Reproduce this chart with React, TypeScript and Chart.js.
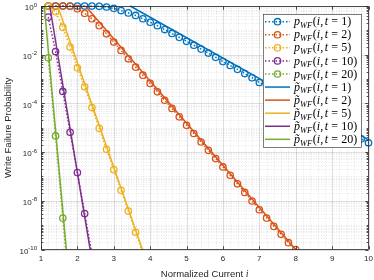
import React, { useEffect, useRef } from 'react';
import { Chart, registerables } from 'chart.js';

Chart.register(...registerables);

// Normalized current grid (x values of the marker series)
const currentGrid = [
  1.2, 1.4, 1.6, 1.8, 2.0, 2.2, 2.4, 2.6, 2.8, 3.0, 3.2, 3.4, 3.6, 3.8, 4.0,
  4.2, 4.4, 4.6, 4.8, 5.0, 5.2, 5.4, 5.6, 5.8, 6.0, 6.2, 6.4, 6.6, 6.8, 7.0,
  7.2, 7.4, 7.6, 7.8, 8.0, 8.2, 8.4, 8.6, 8.8, 9.0, 9.2, 9.4, 9.6, 9.8, 10.0,
];

// p_WF(i, t)
const pwfT1 = [
  1, 1, 1, 1, 1, 0.9995, 0.995, 0.972, 0.91, 0.8, 0.65, 0.52, 0.41, 0.3, 0.215,
  0.155, 0.108, 0.0745, 0.0515, 0.0355, 0.0245, 0.017, 0.0117, 0.0078, 0.0052,
  0.0036, 0.0025, 0.00168, 0.00113, 7.2e-4, 5.1e-4, 3.5e-4, 2.4e-4, 1.62e-4, 1.12e-4,
  7.6e-5, 5.1e-5, 3.5e-5, 2.4e-5, 1.62e-5, 1.12e-5, 7.6e-6, 5.1e-6, 3.5e-6, 2.4e-6,
];
const pwfT2 = [
  1, 1, 0.999, 0.978, 0.78, 0.5, 0.3, 0.155, 0.072, 0.033, 0.015, 0.0068, 0.0031,
  0.00144, 6.6e-4, 3.0e-4, 1.35e-4, 6.2e-5, 2.8e-5, 1.26e-5, 5.8e-6, 2.6e-6, 1.18e-6,
  5.4e-7, 2.45e-7, 1.12e-7, 5.0e-8, 2.2e-8, 9.8e-9, 4.3e-9, 1.95e-9, 8.9e-10, 4.2e-10,
  1.9e-10, 1.0e-10,
];
const pwfT5 = [
  0.998, 0.58, 0.135, 0.0205, 2.9e-3, 4.8e-4, 6.8e-5, 9.5e-6, 1.3e-6, 1.9e-7, 2.7e-8,
  3.8e-9, 5.1e-10, 7e-11,
];
const pwfT10 = [0.35, 0.0135, 3.1e-4, 6.5e-6, 1.45e-7, 3.0e-9, 6.5e-11];
const pwfT20 = [7.5e-3, 4.6e-6, 1.95e-9, 1e-12];

// Approximation p~_WF(i, t): straight lines on the log scale (start, end)
const approxT1Current = [3.45, 10];
const approxT1 = [1, 3.2e-6];
const approxT2Current = [2.22, 8.1];
const approxT2 = [1, 6.7e-11];
const approxT5Current = [1.457, 3.85];
const approxT5 = [1, 5.4e-11];
const approxT10Current = [1.24, 2.4];
const approxT10 = [1, 3.6e-11];
const approxT20Current = [1.09, 1.72];
const approxT20 = [1, 4e-11];

const durations = ['1', '2', '5', '10', '20'];
const colors = ['#0072BD', '#D95319', '#EDB120', '#7E2F8E', '#77AC30'];

const xTicks = [1, 2, 3, 4, 5, 6, 7, 8, 9, 10];
const yTickExps = [0, -2, -4, -6, -8, -10];

const SANS = '"Liberation Sans", Arial, Helvetica, sans-serif';
const SERIF = '"Liberation Serif", "Times New Roman", serif';
const AXIS_COLOR = '#262626';
const DOT_DASH = [1.5, 2];

function drawParts(ctx: CanvasRenderingContext2D, x: number, y: number, parts: any[]) {
  let cx = x;
  for (const p of parts) {
    cx += p.pre || 0;
    const size = p.sub ? 8.5 : 12;
    ctx.font = `${p.it ? 'italic ' : ''}${size}px ${SERIF}`;
    ctx.fillText(p.t, cx, y + (p.sub ? 2.8 : 0));
    cx += ctx.measureText(p.t).width + (p.post || 0);
  }
  return cx;
}

const decorPlugin = {
  id: 'decor',
  beforeDatasetsDraw(chart: any) {
    const { ctx, chartArea: a, scales } = chart;
    const xs = scales.x;
    const ys = scales.y;
    ctx.save();
    // minor grid (dotted)
    ctx.lineWidth = 1;
    ctx.strokeStyle = 'rgba(38,38,38,0.10)';
    ctx.setLineDash([1, 1.5]);
    for (let e = -10; e < 0; e++) {
      for (let m = 1; m < 10; m++) {
        if (m === 1 && e % 2 === 0) continue;
        const py = Math.round(ys.getPixelForValue(m * Math.pow(10, e))) + 0.5;
        ctx.beginPath();
        ctx.moveTo(a.left, py);
        ctx.lineTo(a.right, py);
        ctx.stroke();
      }
    }
    for (let k = 1; k < 45; k++) {
      if (k % 5 === 0) continue;
      const px = Math.round(xs.getPixelForValue(1 + k * 0.2)) + 0.5;
      ctx.beginPath();
      ctx.moveTo(px, a.top);
      ctx.lineTo(px, a.bottom);
      ctx.stroke();
    }
    // major grid
    ctx.setLineDash([]);
    ctx.strokeStyle = 'rgba(38,38,38,0.15)';
    for (const e of yTickExps) {
      const py = Math.round(ys.getPixelForValue(Math.pow(10, e))) + 0.5;
      ctx.beginPath();
      ctx.moveTo(a.left, py);
      ctx.lineTo(a.right, py);
      ctx.stroke();
    }
    for (const t of xTicks) {
      const px = Math.round(xs.getPixelForValue(t)) + 0.5;
      ctx.beginPath();
      ctx.moveTo(px, a.top);
      ctx.lineTo(px, a.bottom);
      ctx.stroke();
    }
    ctx.restore();
  },
  afterDatasetsDraw(chart: any) {
    const { ctx, chartArea: a, scales } = chart;
    const xs = scales.x;
    const ys = scales.y;
    ctx.save();
    ctx.setLineDash([]);
    // box
    ctx.strokeStyle = AXIS_COLOR;
    ctx.lineWidth = 0.8;
    const L = Math.round(a.left) + 0.5;
    const R = Math.round(a.right) - 0.5;
    const T = Math.round(a.top) + 0.5;
    const B = Math.round(a.bottom) - 0.5;
    ctx.strokeRect(L, T, R - L, B - T);
    // ticks
    ctx.beginPath();
    for (const t of xTicks) {
      const px = Math.round(xs.getPixelForValue(t)) + 0.5;
      ctx.moveTo(px, B); ctx.lineTo(px, B - 3.3);
      ctx.moveTo(px, T); ctx.lineTo(px, T + 3.3);
    }
    for (let e = -10; e <= 0; e++) {
      for (let m = 1; m < 10; m++) {
        if (e === 0 && m > 1) continue;
        const major = m === 1 && e % 2 === 0;
        const len = major ? 3.3 : 1.8;
        const py = Math.round(ys.getPixelForValue(m * Math.pow(10, e))) + 0.5;
        ctx.moveTo(L, py); ctx.lineTo(L + len, py);
        ctx.moveTo(R, py); ctx.lineTo(R - len, py);
      }
    }
    ctx.stroke();

    // tick labels
    ctx.fillStyle = AXIS_COLOR;
    ctx.textBaseline = 'middle';
    ctx.textAlign = 'center';
    ctx.font = `8px ${SANS}`;
    for (const t of xTicks) {
      ctx.fillText(String(t), xs.getPixelForValue(t), a.bottom + 9);
    }
    for (const e of yTickExps) {
      const py = ys.getPixelForValue(Math.pow(10, e));
      const expText = String(e);
      ctx.font = `6px ${SANS}`;
      const ew = ctx.measureText(expText).width;
      const baseX = a.left - 4 - ew;
      ctx.textAlign = 'left';
      ctx.fillText(expText, baseX, py - 1);
      ctx.font = `8px ${SANS}`;
      ctx.textAlign = 'right';
      ctx.fillText('10', baseX, py + 2);
    }

    // axis titles
    ctx.textAlign = 'left';
    ctx.textBaseline = 'middle';
    ctx.font = `9.5px ${SANS}`;
    const xt = 'Normalized Current ';
    const w1 = ctx.measureText(xt).width;
    ctx.font = `italic 10px ${SERIF}`;
    const w2 = ctx.measureText('i').width;
    const cx = (a.left + a.right) / 2;
    const sx = cx - (w1 + w2) / 2;
    ctx.font = `9.5px ${SANS}`;
    ctx.fillText(xt, sx, 274);
    ctx.font = `italic 10px ${SERIF}`;
    ctx.fillText('i', sx + w1, 274);

    ctx.save();
    ctx.translate(8, (a.top + a.bottom) / 2);
    ctx.rotate(-Math.PI / 2);
    ctx.textAlign = 'center';
    ctx.font = `9.5px ${SANS}`;
    ctx.fillText('Write Failure Probability', 0, 0);
    ctx.restore();

    // legend
    const lx0 = 263, ly0 = 14, lx1 = 361, ly1 = 147;
    ctx.fillStyle = '#ffffff';
    ctx.fillRect(lx0, ly0, lx1 - lx0, ly1 - ly0);
    ctx.strokeStyle = AXIS_COLOR;
    ctx.lineWidth = 0.6;
    ctx.strokeRect(lx0 + 0.5, ly0 + 0.5, lx1 - lx0, ly1 - ly0);
    for (let k = 0; k < 10; k++) {
      const yk = 21.7 + 13.07 * k;
      const c = colors[k % 5];
      const dotted = k < 5;
      ctx.strokeStyle = c;
      ctx.lineWidth = 1.5;
      ctx.setLineDash(dotted ? DOT_DASH : []);
      ctx.beginPath();
      ctx.moveTo(265, yk);
      ctx.lineTo(290, yk);
      ctx.stroke();
      ctx.setLineDash([]);
      if (dotted) {
        ctx.lineWidth = 1.3;
        ctx.beginPath();
        ctx.arc(277.5, yk, 3.2, 0, Math.PI * 2);
        ctx.stroke();
      }
      ctx.fillStyle = '#000';
      ctx.textAlign = 'left';
      ctx.textBaseline = 'alphabetic';
      drawParts(ctx, 294, yk + 3.6, [
        { t: dotted ? 'p' : 'p\u0303', it: true },
        { t: 'WF', it: true, sub: true, post: 0.6 },
        { t: '(', it: false },
        { t: 'i', it: true },
        { t: ',', it: false, post: 1.6 },
        { t: 't', it: true, post: 3.2 },
        { t: '=', it: false, post: 3.2 },
        { t: durations[k % 5] + ')', it: false },
      ]);
    }
    ctx.restore();
  },
};

function series(xs: number[], ys: number[]) {
  return ys.map((v, i) => ({ x: xs[i], y: v }));
}

export default function App() {
  const ref = useRef<HTMLCanvasElement>(null);
  useEffect(() => {
    const canvas = ref.current;
    if (!canvas) return;
    const pwf = [pwfT1, pwfT2, pwfT5, pwfT10, pwfT20];
    const apX = [approxT1Current, approxT2Current, approxT5Current, approxT10Current, approxT20Current];
    const apY = [approxT1, approxT2, approxT5, approxT10, approxT20];
    const clip = { left: 6, right: 6, top: 6, bottom: 0 };
    const datasets: any[] = [];
    pwf.forEach((arr, k) => {
      datasets.push({
        label: `p_WF(i,t=${durations[k]})`,
        data: series(currentGrid, arr),
        borderColor: colors[k],
        borderWidth: 1.5,
        borderDash: DOT_DASH,
        pointRadius: 3.2,
        pointBorderWidth: 1.3,
        pointBorderColor: colors[k],
        pointBackgroundColor: 'rgba(0,0,0,0)',
        fill: false,
        tension: 0,
        clip,
        order: 10 - k,
      });
    });
    apY.forEach((arr, k) => {
      datasets.push({
        label: `p~_WF(i,t=${durations[k]})`,
        data: series(apX[k], arr),
        borderColor: colors[k],
        borderWidth: 1.5,
        pointRadius: 0,
        fill: false,
        tension: 0,
        clip,
        order: 5 - k,
      });
    });
    const chart = new Chart(canvas, {
      type: 'line',
      data: { datasets },
      options: {
        animation: false,
        responsive: false,
        events: [],
        layout: { padding: { left: 41, right: 5.5, top: 6, bottom: 30.5 } },
        plugins: { legend: { display: false }, tooltip: { enabled: false } },
        scales: {
          x: { type: 'linear', min: 1, max: 10, display: false },
          y: { type: 'logarithmic', min: 1e-10, max: 1, display: false },
        },
      },
      plugins: [decorPlugin],
    } as any);
    return () => chart.destroy();
  }, []);
  return (
    <div style={{ position: 'absolute', left: 0, top: 0, width: 374, height: 280, background: '#fff' }}>
      <canvas ref={ref} width={374} height={280} style={{ display: 'block', width: 374, height: 280 }} />
    </div>
  );
}
